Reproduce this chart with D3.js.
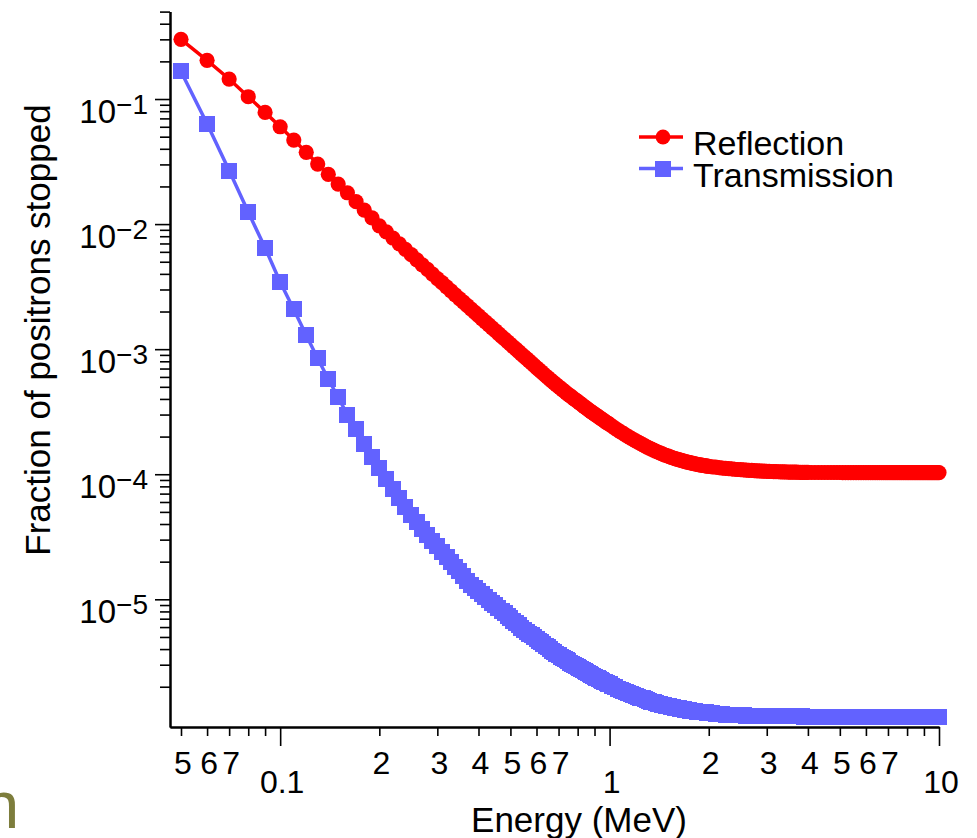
<!DOCTYPE html>
<html>
<head>
<meta charset="utf-8">
<script src="https://cdn.jsdelivr.net/npm/d3@7"></script>
<style>
body { margin: 0; background: #fff; }
text { font-family: "Liberation Sans", Arial, Helvetica, sans-serif; }
</style>
</head>
<body>
<div id="chart"></div>
<script>
var energy = [
    0.05, 0.06, 0.07, 0.08, 0.09, 0.10, 0.11, 0.12, 0.13, 0.14, 0.15, 0.16, 0.17, 0.18, 0.19, 0.20,
    0.21, 0.22, 0.23, 0.24, 0.25, 0.26, 0.27, 0.28, 0.29, 0.30, 0.31, 0.32, 0.33, 0.34, 0.35, 0.36, 0.37, 0.38, 0.39, 0.40,
    0.41, 0.42, 0.43, 0.44, 0.45, 0.46, 0.47, 0.48, 0.49, 0.50,
    0.51, 0.52, 0.53, 0.54, 0.55, 0.56, 0.57, 0.58, 0.59, 0.60,
    0.61, 0.62, 0.63, 0.64, 0.65, 0.66, 0.67, 0.68, 0.69, 0.70,
    0.71, 0.72, 0.73, 0.74, 0.75, 0.76, 0.77, 0.78, 0.79, 0.80,
    0.81, 0.82, 0.83, 0.84, 0.85, 0.86, 0.87, 0.88, 0.89, 0.90,
    0.91, 0.92, 0.93, 0.94, 0.95, 0.96, 0.97, 0.98, 0.99, 1.00,
    1.02, 1.04, 1.06, 1.08, 1.10, 1.12, 1.14, 1.16, 1.18, 1.20,
    1.22, 1.24, 1.26, 1.28, 1.30, 1.32, 1.34, 1.36, 1.38, 1.40,
    1.42, 1.44, 1.46, 1.48, 1.50, 1.52, 1.54, 1.56, 1.58, 1.60,
    1.62, 1.64, 1.66, 1.68, 1.70, 1.72, 1.74, 1.76, 1.78, 1.80,
    1.82, 1.84, 1.86, 1.88, 1.90, 1.92, 1.94, 1.96, 1.98, 2.00,
    2.05, 2.10, 2.15, 2.20, 2.25, 2.30, 2.35, 2.40, 2.45, 2.50,
    2.55, 2.60, 2.65, 2.70, 2.75, 2.80, 2.85, 2.90, 2.95, 3.00,
    3.05, 3.10, 3.15, 3.20, 3.25, 3.30, 3.35, 3.40, 3.45, 3.50,
    3.55, 3.60, 3.65, 3.70, 3.75, 3.80, 3.85, 3.90, 3.95, 4.00,
    4.1, 4.2, 4.3, 4.4, 4.5, 4.6, 4.7, 4.8, 4.9, 5.0,
    5.1, 5.2, 5.3, 5.4, 5.5, 5.6, 5.7, 5.8, 5.9, 6.0,
    6.1, 6.2, 6.3, 6.4, 6.5, 6.6, 6.7, 6.8, 6.9, 7.0,
    7.1, 7.2, 7.3, 7.4, 7.5, 7.6, 7.7, 7.8, 7.9, 8.0,
    8.1, 8.2, 8.3, 8.4, 8.5, 8.6, 8.7, 8.8, 8.9, 9.0,
    9.1, 9.2, 9.3, 9.4, 9.5, 9.6, 9.7, 9.8, 9.9, 10.0
];

var reflection = [
    0.300, 0.204, 0.1445, 0.1043, 0.0782, 0.0600, 0.0470, 0.0375, 0.0302, 0.0250, 0.0209, 0.0178, 0.0151, 0.01294, 0.01123, 0.00969,
    8.65e-3, 7.74e-3, 6.95e-3, 6.28e-3, 5.69e-3, 5.18e-3, 4.73e-3, 4.34e-3, 3.99e-3, 3.67e-3, 3.40e-3, 3.15e-3, 2.92e-3, 2.72e-3, 2.54e-3, 2.375e-3, 2.226e-3, 2.09e-3, 1.966e-3, 1.852e-3,
    1.748e-3, 1.651e-3, 1.562e-3, 1.480e-3, 1.404e-3, 1.333e-3, 1.267e-3, 1.206e-3, 1.149e-3, 1.095e-3,
    1.045e-3, 9.99e-4, 9.55e-4, 9.14e-4, 8.75e-4, 8.39e-4, 8.05e-4, 7.72e-4, 7.42e-4, 7.13e-4,
    6.86e-4, 6.60e-4, 6.36e-4, 6.13e-4, 5.92e-4, 5.72e-4, 5.53e-4, 5.35e-4, 5.18e-4, 5.02e-4,
    4.87e-4, 4.73e-4, 4.59e-4, 4.46e-4, 4.34e-4, 4.23e-4, 4.12e-4, 4.01e-4, 3.91e-4, 3.82e-4,
    3.72e-4, 3.63e-4, 3.54e-4, 3.46e-4, 3.38e-4, 3.30e-4, 3.23e-4, 3.15e-4, 3.09e-4, 3.03e-4,
    2.97e-4, 2.91e-4, 2.85e-4, 2.80e-4, 2.75e-4, 2.69e-4, 2.64e-4, 2.59e-4, 2.55e-4, 2.50e-4,
    2.413e-4, 2.331e-4, 2.256e-4, 2.185e-4, 2.119e-4, 2.058e-4, 2.001e-4, 1.947e-4, 1.896e-4, 1.849e-4,
    1.804e-4, 1.762e-4, 1.723e-4, 1.685e-4, 1.651e-4, 1.618e-4, 1.587e-4, 1.558e-4, 1.531e-4, 1.506e-4,
    1.482e-4, 1.459e-4, 1.438e-4, 1.418e-4, 1.400e-4, 1.382e-4, 1.366e-4, 1.349e-4, 1.335e-4, 1.321e-4,
    1.308e-4, 1.296e-4, 1.284e-4, 1.273e-4, 1.262e-4, 1.252e-4, 1.242e-4, 1.233e-4, 1.225e-4, 1.217e-4,
    1.209e-4, 1.202e-4, 1.195e-4, 1.189e-4, 1.182e-4, 1.177e-4, 1.171e-4, 1.166e-4, 1.162e-4, 1.157e-4,
    1.147e-4, 1.138e-4, 1.129e-4, 1.121e-4, 1.114e-4, 1.108e-4, 1.102e-4, 1.096e-4, 1.091e-4, 1.087e-4,
    1.082e-4, 1.079e-4, 1.075e-4, 1.072e-4, 1.068e-4, 1.065e-4, 1.063e-4, 1.060e-4, 1.058e-4, 1.056e-4,
    1.054e-4, 1.052e-4, 1.050e-4, 1.049e-4, 1.047e-4, 1.046e-4, 1.045e-4, 1.043e-4, 1.042e-4, 1.041e-4,
    1.040e-4, 1.039e-4, 1.038e-4, 1.038e-4, 1.037e-4, 1.036e-4, 1.036e-4, 1.035e-4, 1.035e-4, 1.034e-4,
    1.033e-4, 1.033e-4, 1.033e-4, 1.033e-4, 1.033e-4, 1.033e-4, 1.033e-4, 1.033e-4, 1.033e-4, 1.033e-4,
    1.032e-4, 1.032e-4, 1.032e-4, 1.032e-4, 1.032e-4, 1.032e-4, 1.032e-4, 1.032e-4, 1.032e-4, 1.032e-4,
    1.032e-4, 1.032e-4, 1.032e-4, 1.032e-4, 1.032e-4, 1.032e-4, 1.032e-4, 1.032e-4, 1.032e-4, 1.032e-4,
    1.032e-4, 1.032e-4, 1.032e-4, 1.032e-4, 1.032e-4, 1.032e-4, 1.032e-4, 1.032e-4, 1.032e-4, 1.032e-4,
    1.032e-4, 1.032e-4, 1.032e-4, 1.032e-4, 1.032e-4, 1.032e-4, 1.032e-4, 1.032e-4, 1.032e-4, 1.032e-4,
    1.032e-4, 1.032e-4, 1.032e-4, 1.032e-4, 1.032e-4, 1.032e-4, 1.032e-4, 1.032e-4, 1.032e-4, 1.032e-4
];

var transmission = [
    0.166, 0.0634, 0.0268, 0.01247, 0.00646, 0.00344, 0.002077, 0.00129, 8.43e-4, 5.78e-4, 4.11e-4, 3.00e-4, 2.28e-4, 1.76e-4, 1.375e-4, 1.123e-4,
    9.24e-5, 7.69e-5, 6.46e-5, 5.47e-5, 4.70e-5, 4.15e-5, 3.68e-5, 3.28e-5, 2.95e-5, 2.66e-5, 2.41e-5, 2.19e-5, 2.00e-5, 1.82e-5, 1.67e-5, 1.53e-5, 1.41e-5, 1.31e-5, 1.235e-5, 1.167e-5,
    1.104e-5, 1.046e-5, 9.92e-6, 9.42e-6, 8.96e-6, 8.53e-6, 8.12e-6, 7.75e-6, 7.40e-6, 7.07e-6,
    6.76e-6, 6.48e-6, 6.20e-6, 5.95e-6, 5.71e-6, 5.51e-6, 5.32e-6, 5.14e-6, 4.98e-6, 4.82e-6,
    4.67e-6, 4.52e-6, 4.38e-6, 4.25e-6, 4.12e-6, 4.00e-6, 3.89e-6, 3.78e-6, 3.67e-6, 3.57e-6,
    3.48e-6, 3.40e-6, 3.33e-6, 3.26e-6, 3.19e-6, 3.12e-6, 3.06e-6, 3.00e-6, 2.94e-6, 2.88e-6,
    2.82e-6, 2.77e-6, 2.72e-6, 2.67e-6, 2.62e-6, 2.57e-6, 2.52e-6, 2.48e-6, 2.43e-6, 2.40e-6,
    2.36e-6, 2.33e-6, 2.30e-6, 2.26e-6, 2.23e-6, 2.20e-6, 2.17e-6, 2.14e-6, 2.12e-6, 2.09e-6,
    2.035e-6, 1.984e-6, 1.936e-6, 1.889e-6, 1.845e-6, 1.802e-6, 1.770e-6, 1.742e-6, 1.714e-6, 1.688e-6,
    1.662e-6, 1.637e-6, 1.613e-6, 1.590e-6, 1.567e-6, 1.545e-6, 1.523e-6, 1.502e-6, 1.482e-6, 1.463e-6,
    1.444e-6, 1.433e-6, 1.423e-6, 1.412e-6, 1.402e-6, 1.392e-6, 1.383e-6, 1.373e-6, 1.364e-6, 1.355e-6,
    1.346e-6, 1.337e-6, 1.328e-6, 1.320e-6, 1.311e-6, 1.303e-6, 1.295e-6, 1.287e-6, 1.280e-6, 1.274e-6,
    1.270e-6, 1.266e-6, 1.263e-6, 1.259e-6, 1.255e-6, 1.252e-6, 1.248e-6, 1.245e-6, 1.241e-6, 1.238e-6,
    1.229e-6, 1.221e-6, 1.213e-6, 1.206e-6, 1.198e-6, 1.194e-6, 1.191e-6, 1.188e-6, 1.185e-6, 1.182e-6,
    1.179e-6, 1.177e-6, 1.174e-6, 1.171e-6, 1.169e-6, 1.166e-6, 1.164e-6, 1.164e-6, 1.163e-6, 1.163e-6,
    1.162e-6, 1.162e-6, 1.161e-6, 1.161e-6, 1.160e-6, 1.160e-6, 1.160e-6, 1.159e-6, 1.159e-6, 1.159e-6,
    1.158e-6, 1.158e-6, 1.158e-6, 1.157e-6, 1.157e-6, 1.157e-6, 1.157e-6, 1.156e-6, 1.156e-6, 1.156e-6,
    1.156e-6, 1.156e-6, 1.156e-6, 1.156e-6, 1.156e-6, 1.156e-6, 1.156e-6, 1.156e-6, 1.156e-6, 1.156e-6,
    1.156e-6, 1.156e-6, 1.156e-6, 1.156e-6, 1.156e-6, 1.156e-6, 1.156e-6, 1.156e-6, 1.156e-6, 1.156e-6,
    1.156e-6, 1.156e-6, 1.156e-6, 1.156e-6, 1.156e-6, 1.156e-6, 1.156e-6, 1.156e-6, 1.156e-6, 1.156e-6,
    1.156e-6, 1.156e-6, 1.156e-6, 1.156e-6, 1.156e-6, 1.156e-6, 1.156e-6, 1.156e-6, 1.156e-6, 1.156e-6,
    1.156e-6, 1.156e-6, 1.156e-6, 1.156e-6, 1.156e-6, 1.156e-6, 1.156e-6, 1.156e-6, 1.156e-6, 1.156e-6,
    1.156e-6, 1.156e-6, 1.156e-6, 1.156e-6, 1.156e-6, 1.156e-6, 1.156e-6, 1.156e-6, 1.156e-6, 1.156e-6
];

var seriesNames = ["Reflection", "Transmission"];

var xMajorTicks = [0.1, 1, 10];
var xMajorLabels = ["0.1", "1", "10"];
var xMinorTicks = [0.05, 0.06, 0.07, 0.08, 0.09,
    0.2, 0.3, 0.4, 0.5, 0.6, 0.7, 0.8, 0.9,
    2, 3, 4, 5, 6, 7, 8, 9];
var xMinorLabelTicks = [0.05, 0.06, 0.07, 0.2, 0.3, 0.4, 0.5, 0.6, 0.7, 2, 3, 4, 5, 6, 7];
var xMinorLabels = ["5", "6", "7", "2", "3", "4", "5", "6", "7", "2", "3", "4", "5", "6", "7"];

var yMajorTicks = [1e-5, 1e-4, 1e-3, 1e-2, 1e-1];
var yMajorExponents = ["\u22125", "\u22124", "\u22123", "\u22122", "\u22121"];

var width = 977;
var height = 838;
var red = "#ff0000";
var blue = "#6262ff";

var svg = d3.select("#chart")
    .append("svg")
    .attr("width", width)
    .attr("height", height);

var xScale = d3.scaleLog()
    .domain([0.0463, 10])
    .range([170, 939]);

var yScale = d3.scaleLog()
    .domain([9.53e-7, 0.5])
    .range([727, 11.6]);

// minor y ticks: 2..9 in every decade inside the domain
var yMinorTicks = [];
for (var p = -6; p <= -1; p++) {
    for (var m = 2; m <= 9; m++) {
        var v = m * Math.pow(10, p);
        if (v <= 0.5) yMinorTicks.push(v);
    }
}

// axes
var yMinor = svg.append("g")
    .attr("transform", "translate(170,0)")
    .call(d3.axisLeft(yScale).tickValues(yMinorTicks).tickSize(10).tickSizeOuter(0).tickFormat(""));
var yMajor = svg.append("g")
    .attr("transform", "translate(170,0)")
    .call(d3.axisLeft(yScale).tickValues(yMajorTicks).tickSize(15).tickSizeOuter(0).tickFormat(""));

var xMinor = svg.append("g")
    .attr("transform", "translate(0,727)")
    .call(d3.axisBottom(xScale).tickValues(xMinorTicks).tickSize(9).tickSizeOuter(0).tickFormat(""));
var xMajor = svg.append("g")
    .attr("transform", "translate(0,727)")
    .call(d3.axisBottom(xScale).tickValues(xMajorTicks).tickSize(19).tickSizeOuter(0).tickFormat(""));

[yMinor, yMajor, xMinor, xMajor].forEach(function (g) {
    g.selectAll(".tick line").attr("stroke", "#000").attr("stroke-width", 1.6);
    g.select(".domain").attr("stroke", "#000").attr("stroke-width", 2);
    g.selectAll(".tick text").remove();
});

// y labels 10^n
yMajor.selectAll(".tick").each(function (d, i) {
    var t = d3.select(this).append("text")
        .attr("x", -22)
        .attr("y", 23)
        .attr("fill", "#000")
        .attr("text-anchor", "end");
    t.append("tspan").attr("font-size", 33).text("10");
    t.append("tspan").attr("font-size", 28).attr("dy", -9).text(yMajorExponents[i]);
});

// x labels
svg.selectAll(".xminorlab")
    .data(xMinorLabelTicks)
    .enter()
    .append("text")
    .attr("class", "xminorlab")
    .attr("x", function (d) { return xScale(d) + 2; })
    .attr("y", 774)
    .attr("text-anchor", "middle")
    .attr("font-size", 32)
    .text(function (d, i) { return xMinorLabels[i]; });

svg.selectAll(".xmajorlab")
    .data(xMajorTicks)
    .enter()
    .append("text")
    .attr("class", "xmajorlab")
    .attr("x", function (d) { return xScale(d) + 2; })
    .attr("y", 793)
    .attr("text-anchor", "middle")
    .attr("font-size", 32)
    .text(function (d, i) { return xMajorLabels[i]; });

// axis titles
svg.append("text")
    .attr("x", 579)
    .attr("y", 832)
    .attr("text-anchor", "middle")
    .attr("font-size", 35)
    .text("Energy (MeV)");

svg.append("text")
    .attr("transform", "translate(50,330) rotate(-90)")
    .attr("text-anchor", "middle")
    .attr("font-size", 35)
    .text("Fraction of positrons stopped");

// stray letter from the slide behind the chart
svg.append("text")
    .attr("x", -18)
    .attr("y", 828)
    .attr("font-size", 67)
    .attr("fill", "#7d7d3c")
    .text("n");

// data
var reflData = energy.map(function (e, i) { return { e: e, v: reflection[i] }; });
var transData = energy.map(function (e, i) { return { e: e, v: transmission[i] }; });

var line = d3.line()
    .x(function (d) { return xScale(d.e); })
    .y(function (d) { return yScale(d.v); });

svg.append("path")
    .datum(transData)
    .attr("fill", "none")
    .attr("stroke", blue)
    .attr("stroke-width", 3.5)
    .attr("d", line);

svg.selectAll(".sq")
    .data(transData)
    .enter()
    .append("rect")
    .attr("class", "sq")
    .attr("x", function (d) { return xScale(d.e) - 8; })
    .attr("y", function (d) { return yScale(d.v) - 8; })
    .attr("width", 16)
    .attr("height", 16)
    .attr("fill", blue)
    .attr("shape-rendering", "crispEdges");

svg.append("path")
    .datum(reflData)
    .attr("fill", "none")
    .attr("stroke", red)
    .attr("stroke-width", 3.5)
    .attr("d", line);

svg.selectAll(".dot")
    .data(reflData)
    .enter()
    .append("circle")
    .attr("class", "dot")
    .attr("cx", function (d) { return xScale(d.e); })
    .attr("cy", function (d) { return yScale(d.v); })
    .attr("r", 7.6)
    .attr("fill", red);

// legend
var legend = svg.append("g").attr("transform", "translate(639,137)");
[red, blue].forEach(function (c, i) {
    var g = legend.append("g").attr("transform", "translate(0," + (i * 31.5) + ")");
    g.append("line")
        .attr("x1", 0).attr("x2", 44)
        .attr("y1", 0).attr("y2", 0)
        .attr("stroke", c)
        .attr("stroke-width", 3.5);
    if (i === 0) {
        g.append("circle").attr("cx", 24).attr("cy", 0).attr("r", 7.4).attr("fill", c);
    } else {
        g.append("rect").attr("x", 16).attr("y", -8).attr("width", 16).attr("height", 16)
            .attr("fill", c).attr("shape-rendering", "crispEdges");
    }
    g.append("text")
        .attr("x", 54)
        .attr("y", 18)
        .attr("font-size", 34)
        .text(seriesNames[i]);
});
</script>
</body>
</html>
